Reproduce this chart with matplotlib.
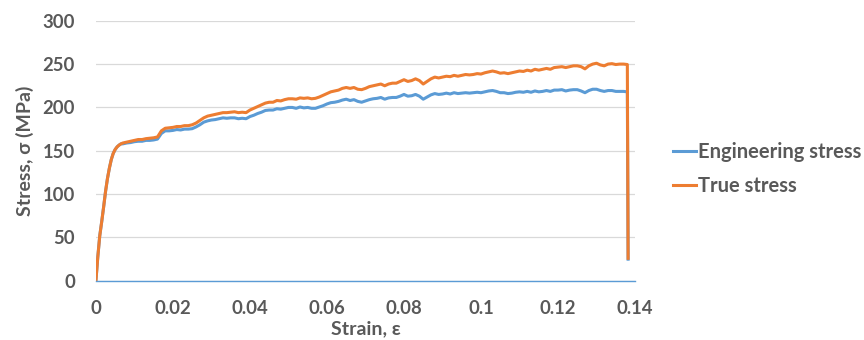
import matplotlib
matplotlib.use("Agg")
import matplotlib.pyplot as plt

plt.rcParams["font.family"] = ["Lato", "DejaVu Sans"]
plt.rcParams["font.weight"] = "bold"

# Elastic loading (both curves coincide here)
strain_elastic = [0.0, 0.0005, 0.001, 0.0015, 0.002, 0.0025, 0.003, 0.0035,
                  0.004, 0.0045, 0.005, 0.0055, 0.006, 0.0065]
stress_elastic = [0, 28, 52, 68, 85, 103, 118, 130,
                  140, 147, 151.5, 154.5, 156.5, 158]

# Plastic region, strain sampled every 0.001 from 0.007 to 0.138
strain_plastic = [
    0.007, 0.008, 0.009, 0.010, 0.011, 0.012, 0.013, 0.014, 0.015, 0.016,
    0.017, 0.018, 0.019, 0.020, 0.021, 0.022, 0.023, 0.024, 0.025, 0.026,
    0.027, 0.028, 0.029, 0.030, 0.031, 0.032, 0.033, 0.034, 0.035, 0.036,
    0.037, 0.038, 0.039, 0.040, 0.041, 0.042, 0.043, 0.044, 0.045, 0.046,
    0.047, 0.048, 0.049, 0.050, 0.051, 0.052, 0.053, 0.054, 0.055, 0.056,
    0.057, 0.058, 0.059, 0.060, 0.061, 0.062, 0.063, 0.064, 0.065, 0.066,
    0.067, 0.068, 0.069, 0.070, 0.071, 0.072, 0.073, 0.074, 0.075, 0.076,
    0.077, 0.078, 0.079, 0.080, 0.081, 0.082, 0.083, 0.084, 0.085, 0.086,
    0.087, 0.088, 0.089, 0.090, 0.091, 0.092, 0.093, 0.094, 0.095, 0.096,
    0.097, 0.098, 0.099, 0.100, 0.101, 0.102, 0.103, 0.104, 0.105, 0.106,
    0.107, 0.108, 0.109, 0.110, 0.111, 0.112, 0.113, 0.114, 0.115, 0.116,
    0.117, 0.118, 0.119, 0.120, 0.121, 0.122, 0.123, 0.124, 0.125, 0.126,
    0.127, 0.128, 0.129, 0.130, 0.131, 0.132, 0.133, 0.134, 0.135, 0.136,
    0.137, 0.138,
]

eng_plastic = [
    158, 159, 159.5, 160.5, 161, 161, 162, 162, 162.5, 163.5,
    170, 173, 173, 173.5, 174.5, 174, 175, 175, 175.5, 177.5,
    180, 183, 184.5, 185.5, 186, 187, 188, 187.5, 188, 188,
    187, 187.5, 187, 189.5, 191, 193, 194.5, 196.5, 197, 197,
    198.5, 198, 199, 200, 200, 199, 200.5, 199.5, 200, 199,
    199, 200.5, 202, 204, 205.5, 206, 207, 208.5, 209.5, 208,
    209, 207, 206, 207.5, 209, 210, 210.5, 211.5, 209.5, 211,
    211.5, 211.5, 213, 215, 213, 213.5, 215, 213, 209.5, 212,
    214.5, 216, 215, 215.5, 216.5, 215.5, 217, 216, 216.5, 217,
    216.5, 217, 217.5, 217, 218, 219, 219.5, 218.5, 217, 217,
    216, 216.5, 217.5, 218, 217.5, 218.5, 217.5, 219, 218, 218.5,
    219.5, 218.5, 220, 220, 220.5, 219, 220, 220.5, 220.5, 219,
    217, 219.5, 221, 221, 219.5, 218.5, 219.5, 219.5, 218.5, 218.5,
    218.5, 218,
]

true_plastic = [
    159, 160, 161, 162, 163, 163, 164, 164.5, 165, 166,
    173, 176, 176.5, 177, 178, 178, 179, 179, 180, 182,
    185, 188, 190, 191, 192, 193, 194, 194, 194.5, 195,
    194, 194.5, 194, 197, 199, 201, 203, 205, 206, 206,
    208, 207.5, 209, 210, 210, 209.5, 211, 210.5, 211, 210,
    210.5, 212, 214, 216, 218, 219, 220, 222, 223, 222,
    223, 221, 220.5, 222, 224, 225, 226, 227, 225, 227,
    228, 228, 230, 232, 230, 231, 233, 231, 227, 230,
    233, 235, 234, 235, 236, 235.5, 237, 236, 237, 238,
    237.5, 238, 239, 238.5, 240, 241, 242, 241, 239.5, 240,
    239, 240, 241, 242, 241.5, 243, 242, 244, 243, 244,
    245, 244, 246, 246.5, 247, 246, 247, 248, 248, 247,
    244.5, 248, 250, 251, 249, 248, 250, 250.5, 249.5, 250,
    250, 249.5,
]

# Fracture: sudden drop at the end of the test
strain_fracture = [0.1382]
eng_fracture = [25]
true_fracture = [26]

strain = strain_elastic + strain_plastic + strain_fracture
eng_stress = stress_elastic + eng_plastic + eng_fracture
true_stress = stress_elastic + true_plastic + true_fracture

x_ticks = [0, 0.02, 0.04, 0.06, 0.08, 0.1, 0.12, 0.14]
x_tick_labels = ["0", "0.02", "0.04", "0.06", "0.08", "0.1", "0.12", "0.14"]
y_ticks = [0, 50, 100, 150, 200, 250, 300]

BLUE = "#5B9BD5"
ORANGE = "#ED7D31"
TEXT = "#595959"

fig = plt.figure(figsize=(8.64, 3.4), dpi=100)
ax = fig.add_axes([0.111, 0.174, 0.624, 0.765])

ax.plot(strain, eng_stress, color=BLUE, lw=2.2, label="Engineering stress",
        solid_joinstyle="round")
ax.plot(strain, true_stress, color=ORANGE, lw=2.2, label="True stress",
        solid_joinstyle="round")

ax.set_xlim(0, 0.14)
ax.set_ylim(0, 300)
ax.set_xticks(x_ticks)
ax.set_xticklabels(x_tick_labels)
ax.set_yticks(y_ticks)

ax.grid(axis="y", color="#D9D9D9", lw=0.9)
ax.set_axisbelow(True)
for side in ["top", "right", "left"]:
    ax.spines[side].set_visible(False)
ax.spines["bottom"].set_color(BLUE)
ax.spines["bottom"].set_linewidth(1.0)

ax.tick_params(axis="both", length=0, labelsize=13.3, labelcolor=TEXT)
ax.tick_params(axis="y", pad=15)
ax.tick_params(axis="x", pad=14)
for lbl in ax.get_xticklabels() + ax.get_yticklabels():
    lbl.set_fontweight("bold")

ax.set_xlabel("Strain, ε", fontsize=14, fontweight="bold", color=TEXT, labelpad=2)
ax.set_ylabel("Stress, σ (MPa)", fontsize=14, fontweight="bold", color=TEXT, labelpad=6)

leg = fig.legend(loc="center left", bbox_to_anchor=(0.779, 0.504), frameon=False,
                 fontsize=14.5, handlelength=1.15, handletextpad=0.08,
                 labelspacing=0.7, borderpad=0, borderaxespad=0)
for t in leg.get_texts():
    t.set_color(TEXT)
    t.set_fontweight("bold")
for h in leg.get_lines():
    h.set_linewidth(2.2)

fig.savefig("out.png", dpi=100)
